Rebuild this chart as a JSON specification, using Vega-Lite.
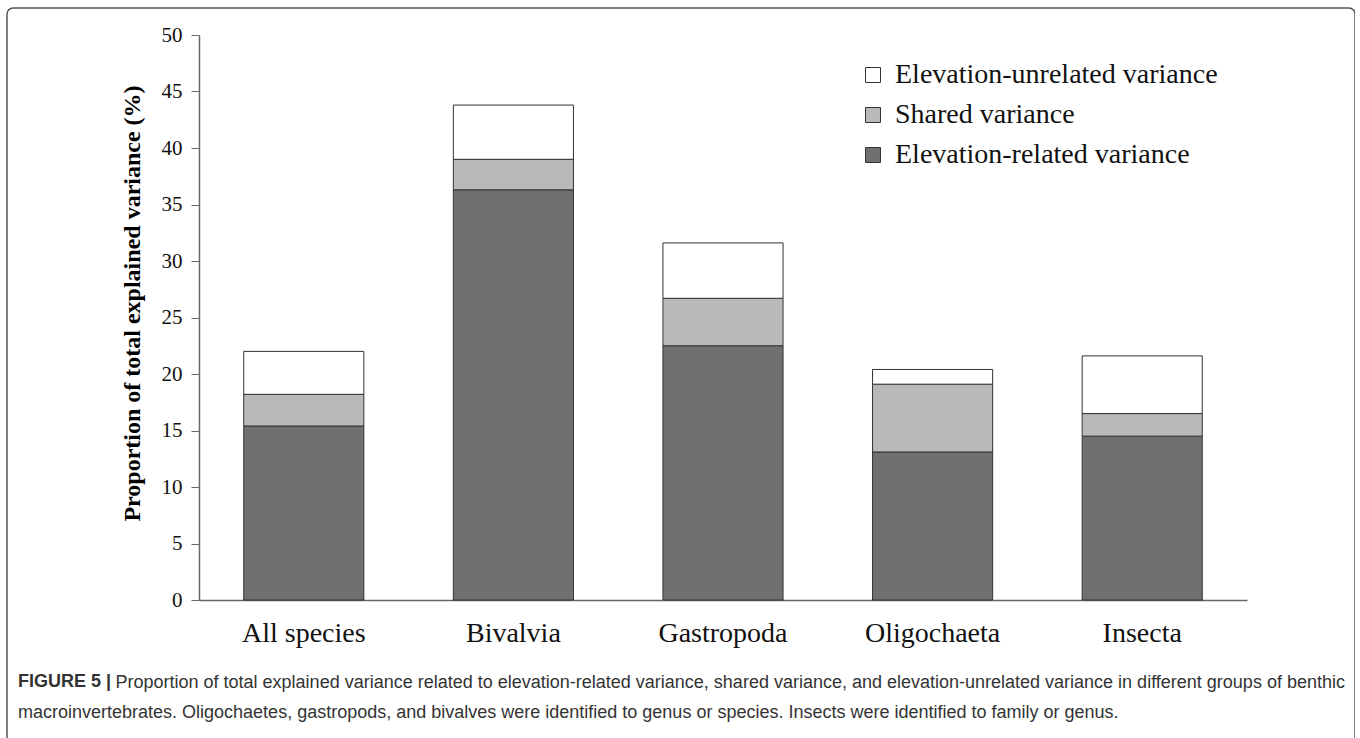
{
  "$schema": "https://vega.github.io/schema/vega-lite/v6.json",
  "width": 1348,
  "height": 740,
  "autosize": "none",
  "padding": {"left": 7, "top": 8, "right": 0, "bottom": 0},
  "background": "white",
  "title": {
    "text": "FIGURE 5 |",
    "subtitle": "macroinvertebrates. Oligochaetes, gastropods, and bivalves were identified to genus or species. Insects were identified to family or genus.",
    "orient": "top",
    "anchor": "start",
    "frame": "group",
    "dx": 11,
    "dy": 718,
    "font": "Liberation Sans",
    "fontSize": 18,
    "fontWeight": "bold",
    "color": "#333333",
    "subtitleFont": "Liberation Sans",
    "subtitleFontSize": 18,
    "subtitleColor": "#333333",
    "subtitlePadding": 13
  },
  "data": {
    "values": [
      {"group": "All species", "component": "Elevation-related variance", "part": 1, "value": 15.4},
      {"group": "All species", "component": "Shared variance", "part": 2, "value": 2.8},
      {"group": "All species", "component": "Elevation-unrelated variance", "part": 3, "value": 3.8},
      {"group": "Bivalvia", "component": "Elevation-related variance", "part": 1, "value": 36.3},
      {"group": "Bivalvia", "component": "Shared variance", "part": 2, "value": 2.7},
      {"group": "Bivalvia", "component": "Elevation-unrelated variance", "part": 3, "value": 4.8},
      {"group": "Gastropoda", "component": "Elevation-related variance", "part": 1, "value": 22.5},
      {"group": "Gastropoda", "component": "Shared variance", "part": 2, "value": 4.2},
      {"group": "Gastropoda", "component": "Elevation-unrelated variance", "part": 3, "value": 4.9},
      {"group": "Oligochaeta", "component": "Elevation-related variance", "part": 1, "value": 13.1},
      {"group": "Oligochaeta", "component": "Shared variance", "part": 2, "value": 6.0},
      {"group": "Oligochaeta", "component": "Elevation-unrelated variance", "part": 3, "value": 1.3},
      {"group": "Insecta", "component": "Elevation-related variance", "part": 1, "value": 14.5},
      {"group": "Insecta", "component": "Shared variance", "part": 2, "value": 2.0},
      {"group": "Insecta", "component": "Elevation-unrelated variance", "part": 3, "value": 5.1}
    ]
  },
  "mark": {"type": "bar", "stroke": "#333333", "strokeWidth": 1},
  "encoding": {
    "x": {
      "field": "group",
      "type": "nominal",
      "sort": ["All species", "Bivalvia", "Gastropoda", "Oligochaeta", "Insecta"],
      "scale": {"range": [192, 1240], "paddingInner": 0.427, "paddingOuter": 0.2135},
      "axis": {
        "offset": -148,
        "labelAngle": 0,
        "labelFont": "Liberation Serif",
        "labelFontSize": 28,
        "labelColor": "#111111",
        "labelPadding": 19,
        "ticks": false,
        "domainColor": "#666666",
        "domainWidth": 1.5,
        "grid": false,
        "title": "Proportion of total explained variance related to elevation-related variance, shared variance, and elevation-unrelated variance in different groups of benthic",
        "titleX": 108,
        "titleY": 87,
        "titleAlign": "left",
        "titleAnchor": "start",
        "titleBaseline": "alphabetic",
        "titleFont": "Liberation Sans",
        "titleFontSize": 18,
        "titleFontWeight": "normal",
        "titleColor": "#333333"
      }
    },
    "y": {
      "field": "value",
      "type": "quantitative",
      "stack": "zero",
      "scale": {"domain": [0, 50], "range": [592, 27], "nice": false},
      "axis": {
        "offset": -192,
        "values": [0, 5, 10, 15, 20, 25, 30, 35, 40, 45, 50],
        "grid": false,
        "tickSize": 8,
        "tickColor": "#666666",
        "domainColor": "#666666",
        "domainWidth": 1.5,
        "labelFont": "Liberation Serif",
        "labelFontSize": 21,
        "labelColor": "#111111",
        "labelPadding": 9,
        "title": "Proportion of  total explained variance (%)",
        "titleFont": "Liberation Serif",
        "titleFontSize": 24,
        "titleFontWeight": "bold",
        "titleColor": "#000000",
        "titlePadding": 17,
        "titleY": 295
      }
    },
    "color": {
      "field": "component",
      "type": "nominal",
      "scale": {
        "domain": ["Elevation-unrelated variance", "Shared variance", "Elevation-related variance"],
        "range": ["#ffffff", "#b9b9b9", "#707070"]
      },
      "legend": {
        "title": null,
        "orient": "none",
        "legendX": 852,
        "legendY": 53,
        "symbolType": "square",
        "symbolSize": 225,
        "symbolStrokeColor": "#333333",
        "symbolStrokeWidth": 1,
        "labelFont": "Liberation Serif",
        "labelFontSize": 28,
        "labelColor": "#111111",
        "labelOffset": 8,
        "rowPadding": 12,
        "padding": 0,
        "labelLimit": 600
      }
    },
    "order": {"field": "part", "type": "quantitative"}
  },
  "config": {
    "view": {"stroke": "#555555", "strokeWidth": 1.5, "cornerRadius": 6}
  }
}
